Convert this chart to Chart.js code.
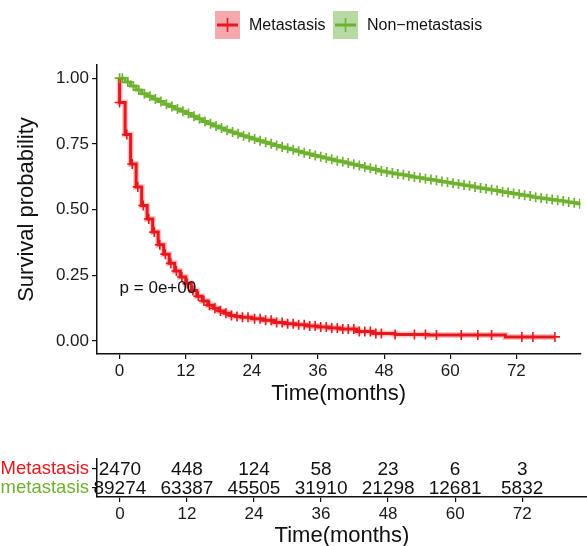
<!DOCTYPE html>
<html>
<head>
<meta charset="utf-8">
<script src="https://cdn.jsdelivr.net/npm/chart.js@4"></script>
<style>
  html, body { margin: 0; padding: 0; background: #fff; width: 587px; height: 546px; overflow: hidden; }
  canvas { position: absolute; left: 0; }
  #km { top: 0; }
  #risk { top: 440px; }
</style>
</head>
<body>
<canvas id="km" width="587" height="410"></canvas>
<canvas id="risk" width="587" height="112"></canvas>
<script>
// groups + colours
const groups = ['Metastasis', 'Non\u2212metastasis'];

// Metastasis KM steps (months, survival)
const metTimes = [0, 0, 1, 2, 3, 4, 5, 6, 7, 8, 9, 10, 11, 12, 13, 14, 15, 16, 17, 18, 19, 20, 21, 22,
  24, 26, 28, 30, 32, 34, 36, 38, 40, 43, 46, 50, 56, 70, 79];
const metSurv = [1, 0.907, 0.785, 0.673, 0.586, 0.515, 0.464, 0.414, 0.366, 0.330, 0.295, 0.266, 0.243,
  0.218, 0.192, 0.170, 0.152, 0.136, 0.124, 0.114, 0.105, 0.097, 0.093, 0.090,
  0.084, 0.078, 0.070, 0.065, 0.061, 0.057, 0.053, 0.049, 0.045, 0.036, 0.028, 0.024, 0.022, 0.015, 0.015];
const metCensor = [0, 1.3, 2.3, 3.3, 4.3, 5.3, 6.3, 7.3, 8.3, 9.3, 10.3, 11.3, 12.3, 13.3, 14.3, 15.3,
  16.3, 17.3, 18.3, 19.3, 20.3, 21.3, 22.3, 23.3, 24.5, 25.5, 26.5, 27.5, 28.5, 29.5, 30.5, 31.5,
  32.5, 33.5, 34.5, 35.5, 36.5, 37.5, 38.5, 39.5, 40.5, 41.5, 42.5, 43.5, 44.5, 45.5, 46.5, 47.5,
  50, 53.5, 55.5, 57.5, 62, 65, 67.5, 73, 75, 79];

// Non-metastasis KM (monthly read-off)
const nonTimes = [0, 1, 2, 3, 4, 5, 6, 7, 8, 9, 10, 11, 12, 13, 14, 15, 16, 17, 18, 19, 20, 21, 22, 23, 24,
  25, 26, 27, 28, 29, 30, 31, 32, 33, 34, 35, 36, 37, 38, 39, 40, 41, 42, 43, 44, 45, 46, 47, 48,
  49, 50, 51, 52, 53, 54, 55, 56, 57, 58, 59, 60, 61, 62, 63, 64, 65, 66, 67, 68, 69, 70, 71, 72,
  73, 74, 75, 76, 77, 78, 79, 80, 81, 82, 83, 84];
const nonSurv = [1.000, 0.985, 0.970, 0.955, 0.941, 0.931, 0.921, 0.911, 0.901, 0.892, 0.883, 0.874, 0.865,
  0.855, 0.845, 0.835, 0.826, 0.818, 0.810, 0.802, 0.795, 0.788, 0.781, 0.775, 0.768,
  0.762, 0.756, 0.750, 0.744, 0.738, 0.733, 0.727, 0.722, 0.716, 0.711, 0.706, 0.701,
  0.696, 0.691, 0.686, 0.682, 0.677, 0.672, 0.667, 0.662, 0.657, 0.652, 0.647, 0.643,
  0.639, 0.635, 0.632, 0.628, 0.624, 0.621, 0.617, 0.614, 0.611, 0.607, 0.604, 0.600,
  0.597, 0.593, 0.590, 0.586, 0.582, 0.579, 0.575, 0.572, 0.568, 0.565, 0.561, 0.558,
  0.554, 0.551, 0.547, 0.544, 0.541, 0.538, 0.535, 0.532, 0.529, 0.526, 0.522, 0.519];
const nonCensor = [0, 0.5, 1.5, 2.5, 3.5, 4.5, 5.5, 6.5, 7.5, 8.5, 9.5, 10.5, 11.5, 12.5, 13.5, 14.5, 15.5,
  16.5, 17.5, 18.5, 19.5, 20.5, 21.5, 22.5, 23.5, 24.5, 25.5, 26.5, 27.5, 28.5, 29.5, 30.5, 31.5,
  32.5, 33.5, 34.5, 35.5, 36.5, 37.5, 38.5, 39.5, 40.5, 41.5, 42.5, 43.5, 44.5, 45.5, 46.5, 47.5,
  48.5, 49.5, 50.5, 51.5, 52.5, 53.5, 54.5, 55.5, 56.5, 57.5, 58.5, 59.5, 60.5, 61.5, 62.5, 63.5,
  64.5, 65.5, 66.5, 67.5, 68.5, 69.5, 70.5, 71.5, 72.5, 73.5, 74.5, 75.5, 76.5, 77.5, 78.5, 79.5,
  80.5, 81.5, 82.5, 83.5];

// axes
const timeTicks = [0, 12, 24, 36, 48, 60, 72];
const survTicks = [0, 0.25, 0.5, 0.75, 1];

// number at risk
const riskMet = [2470, 448, 124, 58, 23, 6, 3];
const riskNon = [89274, 63387, 45505, 31910, 21298, 12681, 5832];

const pLabel = 'p = 0e+00';

const RED = '#E8171C';
const GREEN = '#6DB22E';
const FONT = "'Liberation Sans', Arial, sans-serif";

function stepAt(times, surv, t) {
  let v = surv[0];
  for (let i = 0; i < times.length; i++) {
    if (times[i] <= t) v = surv[i]; else break;
  }
  return v;
}

const toXY = (ts, ys) => ts.map((t, i) => ({ x: t, y: ys[i] }));
const censorXY = (cs, ts, ys) => cs.map(t => ({ x: t, y: stepAt(ts, ys, t) }));

const axisCommon = {
  grid: { drawOnChartArea: false, drawTicks: true, tickLength: 5, color: '#111', lineWidth: 1.2 },
  border: { display: true, color: '#111', width: 1.5 }
};

// custom legend drawn like ggplot keys
const kmLegend = {
  id: 'kmLegend',
  afterDraw(chart) {
    const ctx = chart.ctx;
    const keys = [
      { x: 215, fill: '#F5A8AD', line: RED, text: groups[0], tx: 249 },
      { x: 333, fill: '#B7DAA2', line: GREEN, text: groups[1], tx: 367 }
    ];
    ctx.save();
    keys.forEach(k => {
      const y0 = 11, w = 25, h = 28, cy = y0 + h / 2;
      ctx.fillStyle = k.fill;
      ctx.fillRect(k.x, y0, w, h);
      ctx.strokeStyle = k.line;
      ctx.lineWidth = 3;
      ctx.beginPath(); ctx.moveTo(k.x + 2, cy); ctx.lineTo(k.x + w - 2, cy); ctx.stroke();
      ctx.lineWidth = 1.6;
      ctx.beginPath(); ctx.moveTo(k.x + w / 2, cy - 7); ctx.lineTo(k.x + w / 2, cy + 7); ctx.stroke();
      ctx.fillStyle = '#111';
      ctx.font = '16px ' + FONT;
      ctx.textBaseline = 'middle';
      ctx.textAlign = 'left';
      ctx.fillText(k.text, k.tx, cy + 1);
    });
    ctx.restore();
  }
};

const pvalText = {
  id: 'pvalText',
  afterDatasetsDraw(chart) {
    const { ctx, scales: { x, y } } = chart;
    ctx.save();
    ctx.font = '17px ' + FONT;
    ctx.fillStyle = '#111';
    ctx.textAlign = 'left';
    ctx.textBaseline = 'middle';
    ctx.fillText(pLabel, x.getPixelForValue(0), y.getPixelForValue(0.2));
    ctx.restore();
  }
};

new Chart(document.getElementById('km'), {
  type: 'line',
  data: {
    datasets: [
      { data: toXY(metTimes, metSurv), stepped: true, borderColor: 'rgba(232,23,28,0.25)', borderWidth: 6, pointRadius: 0, fill: false },
      { data: toXY(nonTimes, nonSurv), stepped: true, borderColor: GREEN, borderWidth: 3, pointRadius: 0, fill: false },
      { data: censorXY(nonCensor, nonTimes, nonSurv), showLine: false, pointStyle: 'cross', pointRadius: 5, pointBorderWidth: 1.7, pointBorderColor: GREEN },
      { data: toXY(metTimes, metSurv), stepped: true, borderColor: RED, borderWidth: 3, pointRadius: 0, fill: false },
      { data: censorXY(metCensor, metTimes, metSurv), showLine: false, pointStyle: 'cross', pointRadius: 5, pointBorderWidth: 1.6, pointBorderColor: RED }
    ]
  },
  options: {
    responsive: false,
    animation: false,
    layout: { padding: { top: 65, left: 0, right: 0, bottom: 0 } },
    plugins: { legend: { display: false }, tooltip: { enabled: false } },
    scales: {
      x: {
        type: 'linear', min: -4.1, max: 83.6,
        ...axisCommon,
        afterBuildTicks: s => { s.ticks = timeTicks.map(v => ({ value: v })); },
        afterFit: s => { s.height = 56; },
        ticks: { font: { family: FONT, size: 17 }, color: '#1a1a1a', padding: 2, maxRotation: 0, autoSkip: false },
        title: { display: true, text: 'Time(months)', color: '#111', font: { family: FONT, size: 22 }, padding: { top: 0, bottom: 3 } }
      },
      y: {
        type: 'linear', min: -0.05, max: 1.05,
        ...axisCommon,
        afterBuildTicks: s => { s.ticks = survTicks.map(v => ({ value: v })); },
        afterFit: s => { s.width = 97; },
        ticks: { font: { family: FONT, size: 17 }, color: '#1a1a1a', padding: 3, callback: v => v.toFixed(2) },
        title: { display: true, text: 'Survival probability', color: '#111', font: { family: FONT, size: 22 }, padding: { top: 14, bottom: 0 } }
      }
    }
  },
  plugins: [kmLegend, pvalText]
});

// risk table numbers
const riskText = {
  id: 'riskText',
  afterDatasetsDraw(chart) {
    const { ctx, scales: { x, y } } = chart;
    ctx.save();
    ctx.font = '19px ' + FONT;
    ctx.fillStyle = '#111';
    ctx.textAlign = 'center';
    ctx.textBaseline = 'middle';
    [riskMet, riskNon].forEach((row, r) => {
      row.forEach((n, i) => ctx.fillText(String(n), x.getPixelForValue(timeTicks[i]), y.getPixelForValue(r) + 1));
    });
    ctx.restore();
  }
};

new Chart(document.getElementById('risk'), {
  type: 'scatter',
  data: { datasets: [{ data: [] }] },
  options: {
    responsive: false,
    animation: false,
    layout: { padding: { top: 19, left: 0, right: 0, bottom: 0 } },
    plugins: { legend: { display: false }, tooltip: { enabled: false } },
    scales: {
      x: {
        type: 'linear', min: -4.1, max: 83.6,
        ...axisCommon,
        afterBuildTicks: s => { s.ticks = timeTicks.map(v => ({ value: v })); },
        afterFit: s => { s.height = 55; },
        ticks: { font: { family: FONT, size: 17 }, color: '#1a1a1a', padding: 2, maxRotation: 0, autoSkip: false },
        title: { display: true, text: 'Time(months)', color: '#111', font: { family: FONT, size: 22 }, padding: { top: 0, bottom: 3 } }
      },
      y: {
        type: 'category', labels: groups, offset: true,
        ...axisCommon,
        afterFit: s => { s.width = 97; },
        ticks: { font: { family: FONT, size: 18.5 }, padding: 3, autoSkip: false, color: c => (c.index === 0 ? RED : GREEN) }
      }
    }
  },
  plugins: [riskText]
});
</script>
</body>
</html>
